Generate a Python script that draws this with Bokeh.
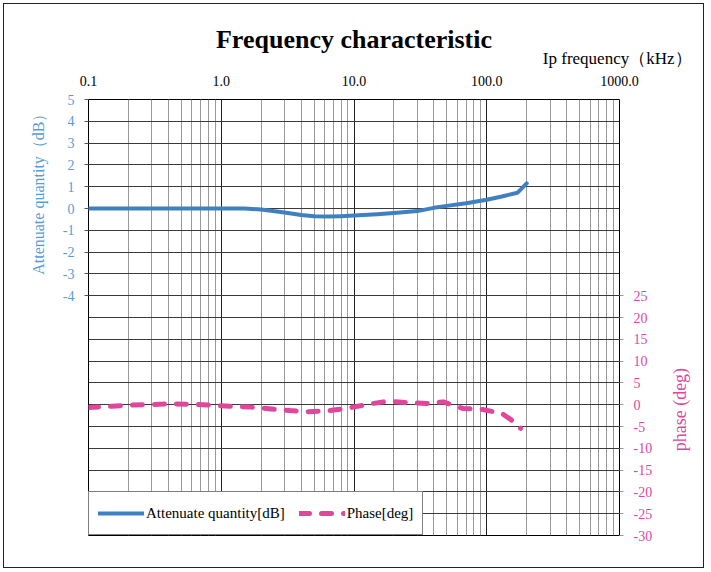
import math
from bokeh.plotting import figure
from bokeh.models import Range1d, LinearAxis, FixedTicker, Legend, LegendItem, Title
from bokeh.embed import file_html
from bokeh.resources import INLINE

# ---- data ----
freq_atten = [0.1, 0.2, 0.5, 1.0, 1.5, 2.0, 3.0, 4.0, 5.0, 6.5, 8.0, 10.0, 15.0, 20.0,
              30.0, 40.0, 50.0, 70.0, 100.0, 130.0, 170.0, 200.0]
atten_db = [0.0, 0.0, 0.0, 0.0, 0.0, -0.05, -0.18, -0.3, -0.36, -0.37, -0.35, -0.32, -0.26,
            -0.21, -0.12, 0.03, 0.12, 0.24, 0.4, 0.55, 0.72, 1.15]

freq_phase = [0.1, 0.15, 0.21, 0.3, 0.42, 0.6, 0.84, 1.2, 1.7, 2.3, 3.3, 4.5, 6.6, 9.3,
              12.7, 18.0, 25.0, 35.0, 47.0, 66.0, 93.0, 130.0, 160.0, 180.0]
phase_deg = [-0.65, -0.35, -0.1, 0.05, 0.2, 0.1, -0.1, -0.4, -0.55, -0.95, -1.35, -1.6,
             -1.35, -0.7, 0.1, 0.8, 0.5, 0.25, 0.65, -0.85, -1.1, -2.0, -3.9, -5.4]

x_ticks = [0.1, 1.0, 10.0, 100.0, 1000.0]
x_tick_labels = ["0.1", "1.0", "10.0", "100.0", "1000.0"]
db_ticks = [5, 4, 3, 2, 1, 0, -1, -2, -3, -4]
phase_ticks = [25, 20, 15, 10, 5, 0, -5, -10, -15, -20, -25, -30]
phase_title = "phase (deg)"
phase_title_at = -10.7   # phase value where the right-hand title starts

BLUE = "#3f80c2"
BLUE_TXT = "#5b9bd5"
PINK = "#e0479b"
FONT = "Liberation Serif"

p = figure(width=699, height=563, x_axis_type="log", x_axis_location="above",
           x_range=Range1d(0.1, 1000), y_range=Range1d(-15, 5),
           output_backend="svg", toolbar_location=None,
           min_border_left=84, min_border_right=84, min_border_top=95, min_border_bottom=32)
p.margin = (4, 4, 4, 4)
p.extra_y_ranges = {"phase": Range1d(-30, 70)}
p.background_fill_color = "white"
p.border_fill_color = "white"
p.outline_line_color = "black"
p.outline_line_width = 1
p.styles = {"outline": "1px solid #222", "outline-offset": "0px"}

# titles
p.title.text = "Frequency characteristic"
p.title.align = "center"
p.title.text_font = FONT
p.title.text_font_size = "26px"
p.title.text_font_style = "bold"
p.title.text_color = "black"
p.title.standoff = -25

p.add_layout(Title(text="Ip frequency（kHz）", align="right", offset=-72, text_font=FONT,
                   text_font_size="17px", text_font_style="normal", text_color="black"),
             "above")
p.add_layout(Title(text="Attenuate quantity（dB）", align="right", offset=6, standoff=25,
                   text_font=FONT, text_font_size="16px", text_font_style="normal",
                   text_color=BLUE_TXT), "left")

# x axis (top)
minor = []
for d in range(-1, 3):
    for m in range(2, 10):
        minor.append(m * 10.0 ** d)
xt = FixedTicker(ticks=x_ticks, minor_ticks=minor)
xa = p.xaxis[0]
xa.ticker = xt
xa.major_label_overrides = {t: l for t, l in zip(x_ticks, x_tick_labels)}
xa.major_label_text_font = FONT
xa.major_label_text_font_size = "14px"
xa.major_label_text_color = "black"
xa.major_tick_out = 0
xa.major_tick_in = 0
xa.minor_tick_out = 0
xa.minor_tick_in = 0
xa.axis_line_color = None
xa.major_label_standoff = 14

p.xgrid.ticker = xt
p.xgrid.grid_line_color = "#222222"
p.xgrid.minor_grid_line_color = "#9a9a9a"
p.xgrid.grid_line_width = 1

# left axis (dB)
ya = p.yaxis[0]
ya.ticker = FixedTicker(ticks=db_ticks)
ya.major_label_overrides = {t: str(t) for t in db_ticks}
ya.major_label_text_font = FONT
ya.major_label_text_font_size = "14px"
ya.major_label_text_color = BLUE_TXT
ya.major_tick_out = 4
ya.major_tick_in = 0
ya.minor_tick_out = 0
ya.minor_tick_in = 0
ya.axis_line_color = None
ya.major_tick_line_color = "#555555"
ya.major_label_standoff = 10

p.ygrid.ticker = FixedTicker(ticks=list(range(-15, 6)))
p.ygrid.grid_line_color = "#3a3a3a"

# right axis (phase)
ra = LinearAxis(y_range_name="phase", ticker=FixedTicker(ticks=phase_ticks))
ra.major_label_overrides = {t: str(t) for t in phase_ticks}
ra.major_label_text_font = FONT
ra.major_label_text_font_size = "14px"
ra.major_label_text_color = PINK
ra.major_tick_out = 4
ra.major_tick_in = 0
ra.minor_tick_out = 0
ra.minor_tick_in = 0
ra.axis_line_color = None
ra.major_tick_line_color = "#999999"
ra.major_label_standoff = 10
p.add_layout(ra, "right")

# right-hand title, placed on the phase scale as a single tick label
rt = LinearAxis(y_range_name="phase", ticker=FixedTicker(ticks=[phase_title_at]))
rt.major_label_overrides = {phase_title_at: phase_title}
rt.major_label_orientation = math.pi / 2
rt.major_label_text_font = FONT
rt.major_label_text_font_size = "18px"
rt.major_label_text_color = PINK
rt.major_tick_out = 0
rt.major_tick_in = 0
rt.minor_tick_out = 0
rt.minor_tick_in = 0
rt.axis_line_color = None
rt.major_tick_line_color = None
rt.major_label_standoff = 25
p.add_layout(rt, "right")

# lines
r_att = p.line(freq_atten, atten_db, line_color=BLUE, line_width=4, line_join="round",
               line_cap="round")
r_ph = p.line(freq_phase, phase_deg, y_range_name="phase", line_color=PINK, line_width=5,
              line_dash="10 12", line_cap="round", line_join="round")

# legend
leg = Legend(items=[LegendItem(label="Attenuate quantity[dB]", renderers=[r_att]),
                    LegendItem(label="Phase[deg]", renderers=[r_ph])],
             location="bottom_left", orientation="horizontal", margin=0, padding=9,
             glyph_width=46, glyph_height=24, label_height=24, label_standoff=2, spacing=14,
             label_text_font=FONT, label_text_font_size="15px", label_text_color="black",
             border_line_color="black", border_line_width=1,
             background_fill_color="white", background_fill_alpha=1.0)
p.add_layout(leg)

open("out.html", "w").write(file_html(p, INLINE))
